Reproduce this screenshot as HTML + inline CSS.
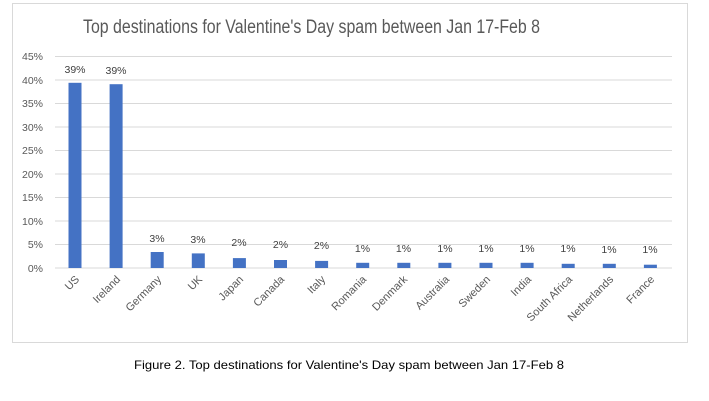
<!DOCTYPE html>
<html><head><meta charset="utf-8"><style>body{margin:0;background:#fff}svg{display:block}</style></head><body>
<svg width="709" height="401" xmlns="http://www.w3.org/2000/svg" font-family="Liberation Sans, sans-serif">
<rect x="12.5" y="3.5" width="675" height="339" fill="#fff" stroke="#d9d9d9"/>
<text x="83" y="33" font-size="19" fill="#595959" textLength="457" lengthAdjust="spacingAndGlyphs">Top destinations for Valentine's Day spam between Jan 17-Feb 8</text>
<g stroke="#d9d9d9" stroke-width="1">
<line x1="55" x2="672" y1="56.5" y2="56.5"/><line x1="55" x2="672" y1="80" y2="80"/><line x1="55" x2="672" y1="103.5" y2="103.5"/><line x1="55" x2="672" y1="127" y2="127"/><line x1="55" x2="672" y1="150.5" y2="150.5"/><line x1="55" x2="672" y1="174" y2="174"/><line x1="55" x2="672" y1="197.5" y2="197.5"/><line x1="55" x2="672" y1="221" y2="221"/><line x1="55" x2="672" y1="244.5" y2="244.5"/><line x1="55" x2="672" y1="268" y2="268"/>
</g>
<g font-size="10.5" fill="#595959" text-anchor="end">
<text x="43" y="60">45%</text><text x="43" y="84">40%</text><text x="43" y="107">35%</text><text x="43" y="131">30%</text><text x="43" y="154">25%</text><text x="43" y="178">20%</text><text x="43" y="201">15%</text><text x="43" y="225">10%</text><text x="43" y="248">5%</text><text x="43" y="272">0%</text>
</g>
<g fill="#4472c4">
<rect x="68.5" y="82.8" width="13" height="185.2"/>
<rect x="109.6" y="84.2" width="13" height="183.8"/>
<rect x="150.7" y="252" width="13" height="16"/>
<rect x="191.8" y="253.4" width="13" height="14.6"/>
<rect x="232.9" y="258.1" width="13" height="9.9"/>
<rect x="274" y="260" width="13" height="8"/>
<rect x="315.1" y="260.9" width="13" height="7.1"/>
<rect x="356.2" y="262.8" width="13" height="5.2"/>
<rect x="397.3" y="262.8" width="13" height="5.2"/>
<rect x="438.4" y="262.8" width="13" height="5.2"/>
<rect x="479.5" y="262.8" width="13" height="5.2"/>
<rect x="520.6" y="262.8" width="13" height="5.2"/>
<rect x="561.7" y="263.8" width="13" height="4.2"/>
<rect x="602.8" y="263.8" width="13" height="4.2"/>
<rect x="643.9" y="264.7" width="13" height="3.3"/>
</g>
<g font-size="10.5" fill="#404040" text-anchor="middle">
<text x="75" y="73">39%</text><text x="116" y="74">39%</text><text x="157" y="242">3%</text><text x="198" y="243">3%</text><text x="239" y="246">2%</text><text x="280.5" y="248">2%</text><text x="321.5" y="249">2%</text><text x="362.5" y="252">1%</text><text x="403.5" y="252">1%</text><text x="445" y="252">1%</text><text x="486" y="252">1%</text><text x="527" y="252">1%</text><text x="568" y="252">1%</text><text x="609" y="253">1%</text><text x="650" y="253">1%</text>
</g>
<g font-size="11" fill="#595959" text-anchor="end">
<text transform="translate(80,280) rotate(-45)">US</text>
<text transform="translate(121,280) rotate(-45)">Ireland</text>
<text transform="translate(162,280) rotate(-45)">Germany</text>
<text transform="translate(203,280) rotate(-45)">UK</text>
<text transform="translate(244,280) rotate(-45)">Japan</text>
<text transform="translate(285,280) rotate(-45)">Canada</text>
<text transform="translate(326,280) rotate(-45)">Italy</text>
<text transform="translate(367,280) rotate(-45)">Romania</text>
<text transform="translate(408,280) rotate(-45)">Denmark</text>
<text transform="translate(450,280) rotate(-45)">Australia</text>
<text transform="translate(491,280) rotate(-45)">Sweden</text>
<text transform="translate(532,280) rotate(-45)">India</text>
<text transform="translate(573,280) rotate(-45)">South Africa</text>
<text transform="translate(614,280) rotate(-45)">Netherlands</text>
<text transform="translate(655,280) rotate(-45)">France</text>
</g>
<text x="349" y="369" font-size="12" fill="#000" text-anchor="middle" textLength="430" lengthAdjust="spacingAndGlyphs">Figure 2. Top destinations for Valentine's Day spam between Jan 17-Feb 8</text>
</svg>
</body></html>
